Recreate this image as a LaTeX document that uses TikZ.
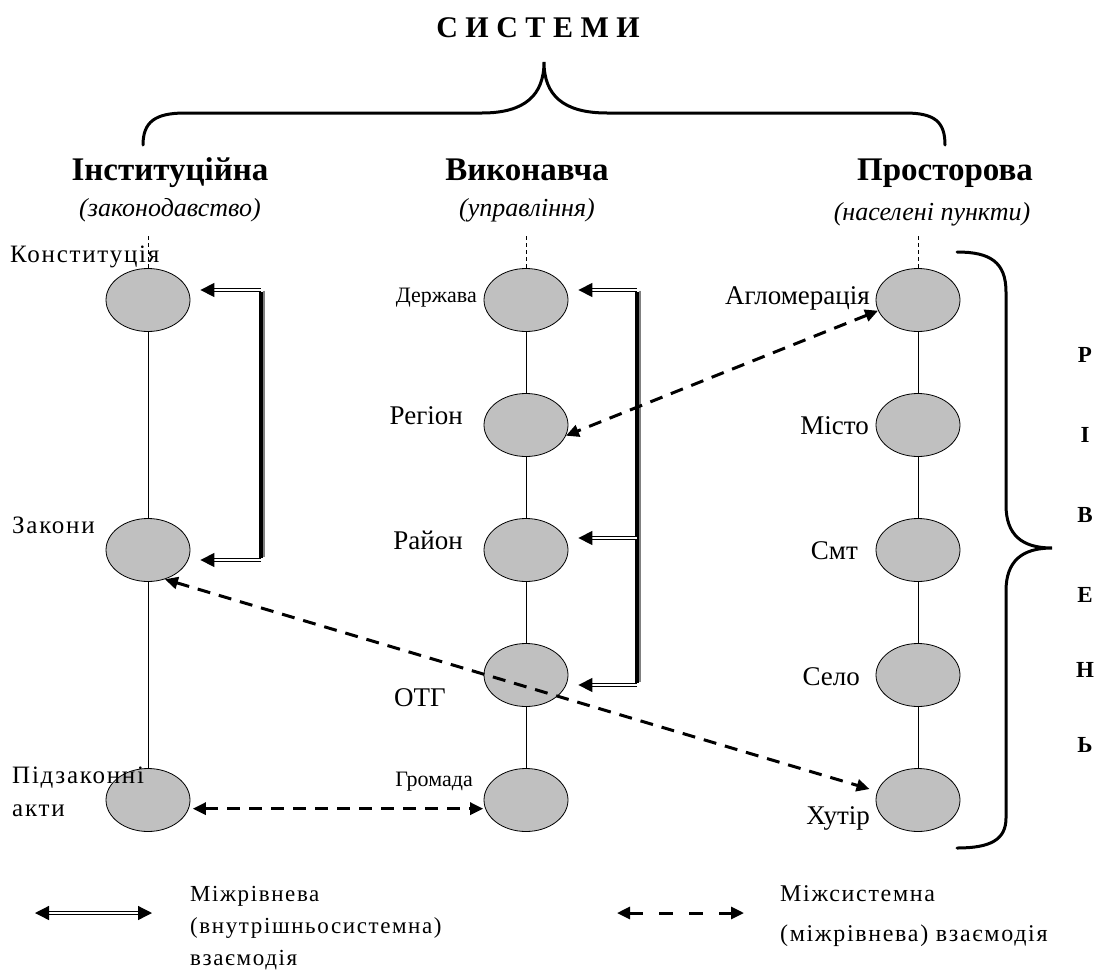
\documentclass[tikz,border=0pt]{standalone}
\usepackage{fontspec}
\setmainfont{Liberation Serif}
\newfontfamily\spaced[LetterSpace=7]{Liberation Serif}
\usetikzlibrary{shapes.geometric,arrows.meta,calc}
\definecolor{ellfill}{HTML}{C0C0C0}
\begin{document}
\begin{tikzpicture}[x=1pt,y=-1pt,
  oval/.style={ellipse,draw=black,line width=0.8pt,fill=ellfill,minimum width=84pt,minimum height=63pt,inner sep=0pt},
  chain/.style={line width=0.8pt},
  tick/.style={dashed,dash pattern=on 4pt off 3pt,line width=0.6pt},
  lab/.style={font=\fontsize{27}{30}\selectfont,inner sep=0pt},
  labs/.style={font=\fontsize{22}{26}\selectfont,inner sep=0pt},
  slab/.style={font=\spaced\fontsize{25}{33}\selectfont,inner sep=0pt,align=left},
  head/.style={font=\fontsize{33}{36}\selectfont\bfseries,inner sep=0pt,anchor=base},
  sub/.style={font=\fontsize{26}{30}\selectfont\itshape,inner sep=0pt,anchor=base},
  dbl/.style={line width=1.3pt,double=white,double distance=2.2pt,-{Triangle[length=14pt,width=14pt]},shorten >=10pt},
  dsh/.style={line width=3pt,dash pattern=on 13pt off 9pt,{Triangle[length=13pt,width=12pt]}-{Triangle[length=13pt,width=12pt]}},
  brace/.style={line width=3pt,line cap=round}]
\useasboundingbox (0,0) rectangle (1100,974);

% title and top brace
\node[font=\fontsize{30}{32}\selectfont\bfseries,inner sep=0pt] (title) at (538,28) {С И С Т Е М И};
\draw[brace] (143,145) .. controls (143,122) and (155,113) .. (185,113) -- (482,113)
  .. controls (525,113) and (544,95) .. (544,62)
  .. controls (544,95) and (563,113) .. (607,113) -- (905,113)
  .. controls (935,113) and (945,122) .. (945,145);

% headers
\node[head] (h1) at (170,180) {Інституційна};
\node[sub] (s1) at (170,216) {(законодавство)};
\node[head] (h2) at (527,180) {Виконавча};
\node[sub] (s2) at (527,216) {(управління)};
\node[head] (h3) at (945,180) {Просторова};
\node[sub] (s3) at (932,220) {(населені пункти)};

% left column
\node[oval] (k) at (148,300) {};
\node[oval] (z) at (148,550) {};
\node[oval] (p) at (148,800) {};
% middle column
\node[oval] (d) at (526,300) {};
\node[oval] (r) at (526,425) {};
\node[oval] (ra) at (526,550) {};
\node[oval] (o) at (526,675) {};
\node[oval] (g) at (526,800) {};
% right column
\node[oval] (a) at (918,300) {};
\node[oval] (m) at (918,425) {};
\node[oval] (s) at (918,550) {};
\node[oval] (se) at (918,675) {};
\node[oval] (h) at (918,800) {};

\coordinate (t1) at (148,236);
\coordinate (t2) at (526,236);
\coordinate (t3) at (918,236);
\draw[tick] (t1) -- (k.north);
\draw[tick] (t2) -- (d.north);
\draw[tick] (t3) -- (a.north);

\draw[chain] (k) -- (z) -- (p);
\draw[chain] (d) -- (r) -- (ra) -- (o) -- (g);
\draw[chain] (a) -- (m) -- (s) -- (se) -- (h);

% labels
\node[slab,anchor=base west] (lk) at (10,262) {Конституція};
\node[slab,anchor=base west] (lz) at (12,533) {Закони};
\node[slab,anchor=base west] (lp) at (12,816) {Підзаконні\\акти};
\node[labs,anchor=base east] (ld) at (477,302) {Держава};
\node[lab,anchor=base east] (lr) at (463,424) {Регіон};
\node[lab,anchor=base east] (lra) at (463,549) {Район};
\node[lab,anchor=base east] (lo) at (446,706) {ОТГ};
\node[labs,anchor=base east] (lg) at (473,786) {Громада};
\node[lab,anchor=base east] (la) at (870,304) {Агломерація};
\node[lab,anchor=base east] (lm) at (869,434) {Місто};
\node[lab,anchor=base east] (ls) at (858,559) {Смт};
\node[lab,anchor=base east] (lse) at (860,685) {Село};
\node[lab,anchor=base east] (lh) at (870,824) {Хутір};

% intra-system double arrows, left
\coordinate (vl1) at (261,290);
\coordinate (vl2) at (261,560);
\draw[line width=3.2pt] ([yshift=-1.6pt]vl1) -- ([yshift=1.6pt]vl2);
\draw[line width=2pt,gray] ([xshift=3.2pt,yshift=-0.5pt]vl1) -- ([xshift=3.2pt,yshift=2.6pt]vl2);
\draw[dbl] (vl1) -- (vl1 -| k.east);
\draw[dbl] (vl2) -- (vl2 -| z.east);

% intra-system double arrows, middle
\coordinate (vm1) at (637,290);
\coordinate (vm2) at (637,538);
\coordinate (vm3) at (637,685);
\draw[line width=3.2pt] ([yshift=-1.6pt]vm1) -- ([yshift=1.6pt]vm3);
\draw[line width=2pt,gray] ([xshift=3.2pt,yshift=-0.5pt]vm1) -- ([xshift=3.2pt,yshift=2.6pt]vm3);
\draw[dbl] (vm1) -- (vm1 -| d.east);
\draw[dbl] (vm2) -- (vm2 -| ra.east);
\draw[dbl] (vm3) -- (vm3 -| o.east);

% inter-system dashed arrows
\draw[dsh] (a.195) -- (r.-15);
\draw[dsh,shorten >=8pt] (z.-60) -- (h.168);
\draw[dsh,shorten <=4pt,shorten >=2pt] (p.-12) -- (g.192);

% right brace
\draw[brace] (957,252) .. controls (990,252) and (1006,262) .. (1006,292) -- (1006,505)
  .. controls (1006,535) and (1022,548) .. (1052,548)
  .. controls (1022,548) and (1006,561) .. (1006,591) -- (1006,818)
  .. controls (1006,840) and (990,848) .. (957,848);

\foreach \l/\yy [count=\i] in {Р/355,І/435,В/515,Е/595,Н/670,Ь/745}
  \node[font=\fontsize{23}{24}\selectfont\bfseries,inner sep=0pt] (rv\i) at (1085,\yy) {\l};

% legend
\coordinate (l1a) at (35,913);
\coordinate (l1b) at (152,913);
\draw[line width=1.3pt,double=white,double distance=2.2pt,{Triangle[length=14pt,width=14pt]}-{Triangle[length=14pt,width=14pt]}] (l1a) -- (l1b);
\node[slab,anchor=base west,font=\spaced\fontsize{23}{32}\selectfont] (leg1) at (190,965) {Міжрівнева\\(внутрішньосистемна)\\взаємодія};
\coordinate (l2a) at (617,913);
\coordinate (l2b) at (744,913);
\draw[line width=3pt,dash pattern=on 14pt off 16pt,{Triangle[length=13pt,width=12pt]}-{Triangle[length=13pt,width=12pt]}] (l2a) -- (l2b);
\node[slab,anchor=base west,font=\spaced\fontsize{24}{40}\selectfont] (leg2) at (780,941) {Міжсистемна\\(міжрівнева) взаємодія};
\end{tikzpicture}
\end{document}
